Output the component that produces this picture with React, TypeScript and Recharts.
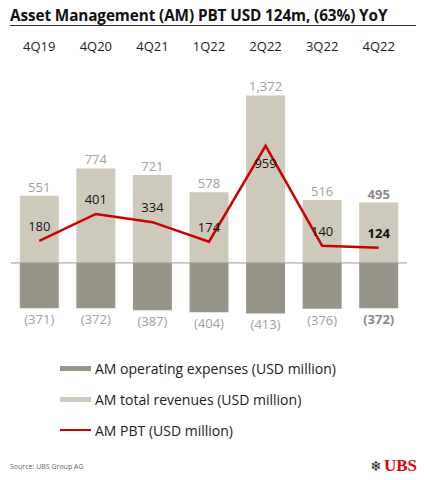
import React from 'react';
import {
  ComposedChart,
  Bar,
  Line,
  XAxis,
  YAxis,
  ReferenceLine,
  LabelList
} from 'recharts';

const quarters = ['4Q19', '4Q20', '4Q21', '1Q22', '2Q22', '3Q22', '4Q22'];
const revenues = [551, 774, 721, 578, 1372, 516, 495];
const expenses = [-371, -372, -387, -404, -413, -376, -372];
const pbt = [180, 401, 334, 174, 959, 140, 124];

const REV_COLOR = '#cdcabc';
const EXP_COLOR = '#979589';
const PBT_COLOR = '#cc0000';
const FONT = '"Open Sans", "DejaVu Sans", sans-serif';

const data = quarters.map((q, i) => ({
  quarter: q,
  revenue: revenues[i],
  expense: expenses[i],
  pbt: pbt[i]
}));

const last = quarters.length - 1;

const fmt = (v: number) => (v < 0 ? `(${Math.abs(v)})` : v.toLocaleString('en-US'));

const RevenueLabel = (props: any) => {
  const { x, y, width, index, value } = props;
  const isLast = index === last;
  return (
    <text
      x={x + width / 2}
      y={y - 4}
      textAnchor="middle"
      fontSize={13}
      fontFamily={FONT}
      fontWeight={isLast ? 700 : 400}
      fill={isLast ? '#8a8a8a' : '#a0a0a0'}
    >
      {fmt(value)}
    </text>
  );
};

const ExpenseLabel = (props: any) => {
  const { x, y, width, height, index, value } = props;
  const isLast = index === last;
  // negative bar: y + height is the bottom edge
  const bottom = Math.max(y, y + height);
  return (
    <text
      x={x + width / 2}
      y={bottom + 16}
      textAnchor="middle"
      fontSize={13}
      fontFamily={FONT}
      fontWeight={isLast ? 700 : 400}
      fill={isLast ? '#8a8a8a' : '#a0a0a0'}
    >
      {fmt(value)}
    </text>
  );
};

const PbtLabel = (props: any) => {
  const { x, y, index, value } = props;
  const isLast = index === last;
  const below = value === Math.max(...pbt);
  return (
    <text
      x={x}
      y={below ? y + 22 : y - 10}
      textAnchor="middle"
      fontSize={13}
      fontFamily={FONT}
      fontWeight={isLast ? 700 : 400}
      fill="#111"
    >
      {value}
    </text>
  );
};

const TopTick = (props: any) => {
  const { x, y, payload } = props;
  return (
    <text x={x} y={y} textAnchor="middle" fontSize={13} fontFamily={FONT} fill="#222">
      {payload.value}
    </text>
  );
};

const legendItems = [
  { label: 'AM operating expenses (USD million)', color: EXP_COLOR, h: 5 },
  { label: 'AM total revenues (USD million)', color: REV_COLOR, h: 5 },
  { label: 'AM PBT (USD million)', color: PBT_COLOR, h: 2.5 }
];

export default function App() {
  return (
    <div
      style={{
        position: 'absolute',
        left: 0,
        top: 0,
        width: 425,
        height: 480,
        background: '#fff',
        fontFamily: FONT,
        overflow: 'hidden'
      }}
    >
      <div
        style={{
          position: 'absolute',
          left: 10,
          top: 5,
          fontSize: 15.3,
          fontWeight: 700,
          color: '#111',
          letterSpacing: -0.1
        }}
      >
        Asset Management (AM) PBT USD 124m, (63%) YoY
      </div>
      <div
        style={{
          position: 'absolute',
          left: 10,
          top: 25,
          width: 406,
          height: 1,
          background: '#333'
        }}
      />
      <div style={{ position: 'absolute', left: 0, top: 0 }}>
        <ComposedChart
          width={425}
          height={345}
          data={data}
          stackOffset="sign"
          barCategoryGap="15.5%"
          margin={{ top: 30, right: 18, left: 11, bottom: 21 }}
        >
          <XAxis
            dataKey="quarter"
            orientation="top"
            height={62}
            axisLine={false}
            tickLine={false}
            tickSize={0}
            tickMargin={41}
            tick={<TopTick />}
            interval={0}
          />
          <YAxis hide domain={[-500, 1400]} />
          <Bar dataKey="revenue" stackId="a" fill={REV_COLOR} isAnimationActive={false}>
            <LabelList dataKey="revenue" content={<RevenueLabel />} />
          </Bar>
          <Bar dataKey="expense" stackId="a" fill={EXP_COLOR} isAnimationActive={false}>
            <LabelList dataKey="expense" content={<ExpenseLabel />} />
          </Bar>
          <ReferenceLine y={0} stroke="#9a9a9a" strokeWidth={1} ifOverflow="extendDomain" />
          <Line
            type="linear"
            dataKey="pbt"
            stroke={PBT_COLOR}
            strokeWidth={2.5}
            dot={false}
            isAnimationActive={false}
          >
            <LabelList dataKey="pbt" content={<PbtLabel />} />
          </Line>
        </ComposedChart>
      </div>
      {legendItems.map((item, i) => (
        <div
          key={item.label}
          style={{
            position: 'absolute',
            left: 60,
            top: 358 + i * 31,
            height: 20,
            display: 'flex',
            alignItems: 'center'
          }}
        >
          <div style={{ width: 31, height: item.h, background: item.color, marginRight: 4 }} />
          <span style={{ fontSize: 14, color: '#222' }}>{item.label}</span>
        </div>
      ))}
      <div style={{ position: 'absolute', left: 10, top: 462, fontSize: 7, color: '#666' }}>
        Source: UBS Group AG
      </div>
      <div
        style={{
          position: 'absolute',
          right: 8,
          top: 456,
          display: 'flex',
          alignItems: 'center'
        }}
      >
        <span style={{ fontSize: 14, color: '#222', marginRight: 2, fontFamily: '"DejaVu Sans"' }}>❄</span>
        <span
          style={{
            fontFamily: '"Liberation Serif", serif',
            fontWeight: 700,
            fontSize: 17,
            color: '#e60000'
          }}
        >
          UBS
        </span>
      </div>
    </div>
  );
}
